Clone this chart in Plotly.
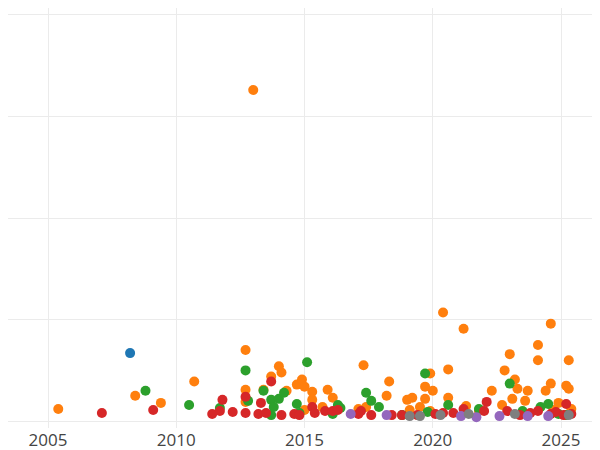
import plotly.graph_objects as go

orange = [(2005.4,12),(2008.4,25),(2009.4,18),(2010.7,39),(2012.7,70),(2012.7,31),(2012.7,19),(2013.0,326),(2013.4,31),(2013.7,44),(2014.0,54),(2014.1,48),(2014.3,30),(2014.7,36),(2014.9,41),(2015.0,34),(2015.3,29),(2015.3,21),(2015.0,11),(2015.7,14),(2015.9,31),(2016.1,23),(2017.3,55),(2017.1,12),(2017.4,14),(2018.2,25),(2018.3,39),(2019.0,21),(2019.2,23),(2019.1,11),(2019.5,14),(2019.7,22),(2019.7,34),(2019.9,47),(2020.0,30),(2019.9,10),(2020.4,107),(2020.6,51),(2020.6,23),(2021.2,91),(2021.3,15),(2021.8,10),(2022.3,30),(2022.8,50),(2023.0,66),(2023.2,41),(2023.3,32),(2023.1,22),(2022.7,16),(2023.7,30),(2023.6,20),(2024.1,75),(2024.1,60),(2024.6,96),(2024.6,37),(2024.4,30),(2024.7,11),(2024.9,18),(2025.2,35),(2025.3,60),(2025.3,32),(2025.4,12)]
red = [(2007.1,8),(2009.1,11),(2011.4,7),(2011.7,10),(2011.8,21),(2012.2,9),(2012.7,24),(2012.7,8),(2013.2,7),(2013.5,8),(2013.3,18),(2013.7,39),(2014.1,6),(2014.6,7),(2014.8,6),(2015.3,14),(2015.4,8),(2015.8,10),(2016.1,10),(2016.3,11),(2017.1,7),(2017.2,10),(2017.6,6),(2018.4,6),(2018.8,6),(2019.4,6),(2020.1,7),(2020.4,8),(2020.8,8),(2021.2,12),(2022.0,10),(2022.1,19),(2022.9,10),(2023.4,6),(2023.8,8),(2024.1,10),(2024.6,7),(2024.8,9),(2025.1,6),(2025.2,17),(2025.4,7)]
green = [(2008.8,30),(2010.5,16),(2011.7,13),(2012.7,50),(2012.8,20),(2013.4,30),(2013.7,21),(2013.8,14),(2013.7,6),(2014.0,22),(2014.2,28),(2014.7,17),(2014.8,8),(2015.1,58),(2016.3,16),(2016.4,13),(2016.1,7),(2017.4,28),(2017.6,20),(2017.9,14),(2018.8,6),(2019.7,47),(2019.8,9),(2020.6,16),(2021.8,12),(2023.0,37),(2023.5,10),(2024.2,14),(2024.5,17),(2024.9,7),(2025.2,6)]
blue = [(2008.2,67)]
purple = [(2016.8,7),(2018.2,6),(2021.1,5),(2021.7,4),(2022.6,5),(2023.7,5),(2024.5,5)]
gray = [(2019.1,5),(2019.5,5),(2020.3,6),(2021.4,7),(2023.2,7),(2025.3,6)]

series = [(blue,'#1f77b4'),(orange,'#ff7f0e'),(green,'#2ca02c'),(red,'#d62728'),(purple,'#9467bd'),(gray,'#7f7f7f')]

fig = go.Figure()
for pts, c in series:
    fig.add_trace(go.Scatter(x=[p[0] for p in pts], y=[p[1] for p in pts], mode='markers',
                             marker=dict(color=c, size=10), showlegend=False, cliponaxis=False))

fig.update_layout(width=600, height=450, margin=dict(l=0, r=0, t=0, b=30, autoexpand=False),
                  plot_bgcolor='white', paper_bgcolor='white',
                  font=dict(family='Open Sans', size=17, color='#444'))
fig.update_xaxes(range=[2003.44, 2026.83], tickvals=[2005, 2010, 2015, 2020, 2025],
                 showgrid=True, gridcolor='#ebebeb', zeroline=False, ticks='', automargin=False)
fig.update_yaxes(range=[-6.7, 406.7], dtick=100, showticklabels=False, showgrid=True,
                 gridcolor='#ebebeb', zeroline=False, automargin=False)
fig.write_html("out.html")
